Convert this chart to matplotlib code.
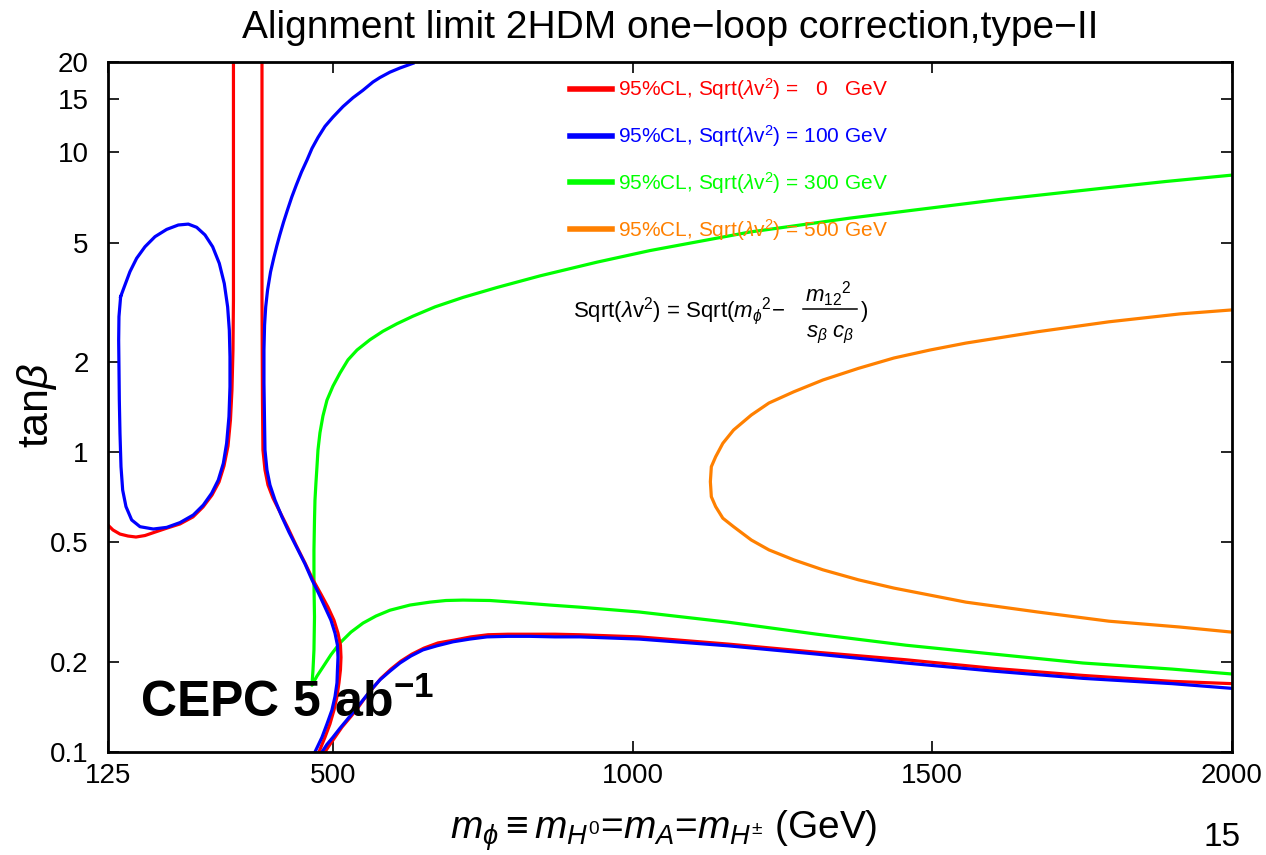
import matplotlib
matplotlib.use("Agg")
import matplotlib.pyplot as plt
from matplotlib.lines import Line2D

plt.rcParams['font.family'] = ['Liberation Sans', 'DejaVu Sans']
plt.rcParams['mathtext.fontset'] = 'custom'
plt.rcParams['mathtext.rm'] = 'Liberation Sans'
plt.rcParams['mathtext.it'] = 'Liberation Sans:italic'
plt.rcParams['mathtext.bf'] = 'Liberation Sans:bold'
plt.rcParams['mathtext.fallback'] = 'stix'

RED = '#ff0000'
BLUE = '#0000ff'
GREEN = '#00ff00'
ORANGE = '#ff8000'
LW = 2.3

# --- curves: (m_phi [GeV], tan beta) ---
red_left_x = [125, 133.3, 145.0, 158.4, 171.7, 186.7, 203.4, 223.4, 245.1, 266.8, 283.5, 298.5,
              310.2, 318.5, 325.2, 329.3, 331.8, 333.5, 334.3, 334.3]
red_left_y = [0.571, 0.550, 0.533, 0.525, 0.521, 0.527, 0.541, 0.558, 0.576, 0.608, 0.656, 0.719,
              0.795, 0.899, 1.048, 1.280, 1.611, 2.19, 3.22, 20.0]

red_right_x = [381.9, 381.9, 382.7, 383.5, 386.9, 391.9, 400.2, 411.9, 425.3, 438.6, 453.6, 467.0,
               480.3, 492.0, 502.0, 508.7, 512.8, 513.7, 512.8, 510.3, 507.0, 502.0, 495.3, 487.0,
               477.0]
red_right_y = [20.0, 3.22, 1.49, 1.016, 0.872, 0.777, 0.703, 0.631, 0.558, 0.490, 0.427, 0.375,
               0.336, 0.304, 0.275, 0.249, 0.227, 0.207, 0.188, 0.170, 0.153, 0.138, 0.124, 0.112,
               0.1]

red_low_x = [487.0, 495.3, 503.7, 515.3, 527.0, 540.4, 552.1, 565.4, 580.4, 597.1, 613.8, 632.1,
             652.1, 675.5, 702.2, 730.5, 758.9, 792.2, 828.9, 870.6, 912.3, 1010.8, 1159.2, 1307.7,
             1456.1, 1603.0, 1751.4, 1899.9, 2000]
red_low_y = [0.1, 0.106, 0.112, 0.121, 0.129, 0.139, 0.150, 0.162, 0.176, 0.189, 0.201, 0.212,
             0.222, 0.231, 0.236, 0.242, 0.246, 0.247, 0.247, 0.247, 0.246, 0.242, 0.229, 0.215,
             0.203, 0.190, 0.180, 0.172, 0.169]

blue_loop_x = [146.1, 143.3, 142.8, 143.3, 143.9, 145.0, 146.7, 149.5, 155.0, 164.5, 178.4, 200.6,
               222.9, 245.1, 267.3, 284.0, 297.9, 309.0, 317.4, 322.9, 326.8, 328.5, 328.5, 327.4,
               324.6, 319.0, 310.7, 299.6, 286.8, 272.9, 259.0, 242.3, 222.9, 203.4, 186.7, 172.8,
               161.7, 152.2, 146.1]
blue_loop_y = [3.30, 2.83, 2.36, 1.93, 1.49, 1.155, 0.894, 0.747, 0.658, 0.594, 0.564, 0.554,
               0.561, 0.582, 0.617, 0.666, 0.729, 0.807, 0.917, 1.070, 1.313, 1.653, 2.08, 2.55,
               3.05, 3.65, 4.26, 4.84, 5.30, 5.62, 5.76, 5.72, 5.53, 5.23, 4.84, 4.43,
               4.00, 3.56, 3.30]

blue_right_x = [633.8, 612.1, 595.4, 578.7, 567.0, 550.4, 533.7, 517.0, 500.3, 487.0, 475.3, 465.3,
                457.0, 447.8, 439.1, 431.6, 424.4, 417.9, 411.6, 406.6, 401.9, 396.2, 391.2, 388.1,
                386.2, 385.2, 385.2, 386.1, 386.9, 390.2, 395.2, 403.6, 415.2, 426.9, 440.3, 453.6,
                465.3, 477.0, 487.0, 497.0, 503.7, 507.8, 508.7, 507.8, 507.0, 503.7, 498.6, 490.3,
                482.0, 470.3]
blue_right_y = [19.8, 19.1, 18.5, 17.75, 17.15, 16.1, 15.2, 14.2, 13.1, 12.2, 11.2, 10.3,
                9.42, 8.59, 7.77, 7.09, 6.42, 5.85, 5.30, 4.87, 4.47, 3.99, 3.47, 3.05,
                2.65, 2.19, 1.70, 1.280, 1.016, 0.872, 0.777, 0.692, 0.608, 0.541, 0.479, 0.424,
                0.375, 0.336, 0.304, 0.275, 0.249, 0.227, 0.207, 0.188, 0.170, 0.153, 0.138, 0.124,
                0.112, 0.1]

blue_low_x = [482.0, 490.3, 500.3, 512.0, 523.7, 537.0, 550.4, 563.7, 578.7, 595.4, 612.1, 630.4,
              650.4, 673.8, 700.5, 728.9, 757.2, 792.2, 828.9, 870.6, 912.3, 1010.8, 1159.2, 1307.7,
              1456.1, 1603.0, 1751.4, 1899.9, 2000]
blue_low_y = [0.1, 0.106, 0.112, 0.120, 0.128, 0.138, 0.149, 0.161, 0.174, 0.186, 0.198, 0.209,
              0.219, 0.226, 0.233, 0.238, 0.242, 0.243, 0.243, 0.242, 0.242, 0.238, 0.226, 0.212,
              0.198, 0.186, 0.176, 0.169, 0.163]

green_x = [2000, 1889.9, 1779.7, 1612.9, 1462.8, 1362.7, 1195.9, 1029.1, 940.7, 845.6, 773.9,
           717.2, 670.5, 633.8, 607.1, 583.7, 562.0, 540.4, 525.3, 512.0, 500.3, 490.3, 483.6,
           478.6, 475.3, 473.6, 471.9, 470.3, 469.5, 468.6, 468.6, 469.5, 468.6, 467.0, 465.3,
           473.6, 483.6, 497.0, 512.0, 530.3, 550.4, 572.0, 595.4, 628.8, 662.1, 688.8, 717.2,
           762.2, 800.6, 862.3, 912.3, 1010.8, 1159.2, 1307.7, 1456.1, 1603.0, 1751.4, 1899.9, 2000]
green_y = [8.39, 7.99, 7.57, 6.96, 6.39, 6.03, 5.42, 4.70, 4.30, 3.87, 3.54,
           3.28, 3.05, 2.84, 2.68, 2.53, 2.37, 2.19, 2.03, 1.835, 1.66, 1.49, 1.320,
           1.16, 1.016, 0.892, 0.789, 0.692, 0.594, 0.472, 0.366, 0.282, 0.219, 0.188, 0.167,
           0.179, 0.192, 0.211, 0.231, 0.251, 0.269, 0.284, 0.297, 0.309, 0.316, 0.320, 0.321,
           0.320, 0.316, 0.309, 0.304, 0.293, 0.271, 0.247, 0.227, 0.212, 0.198, 0.189, 0.182]

orange_x = [2000, 1913.2, 1794.8, 1675.7, 1556.2, 1496.2, 1436.1, 1377.1, 1317.7, 1269.3, 1227.6,
            1198.3, 1168.6, 1150.7, 1138.7, 1131.5, 1129.9, 1131.5, 1138.7, 1150.7, 1168.6, 1198.3,
            1227.6, 1269.3, 1317.7, 1377.1, 1436.1, 1556.2, 1675.7, 1794.8, 1913.2, 2000]
orange_y = [2.98, 2.89, 2.72, 2.52, 2.31, 2.19, 2.06, 1.903, 1.740, 1.590, 1.458,
            1.330, 1.185, 1.070, 0.965, 0.894, 0.797, 0.710, 0.658, 0.602, 0.564, 0.509,
            0.472, 0.437, 0.405, 0.375, 0.352, 0.316, 0.293, 0.273, 0.261, 0.251]

xticks = [125, 500, 1000, 1500, 2000]
yticks = [0.1, 0.2, 0.5, 1, 2, 5, 10, 15, 20]
ytick_labels = ['0.1', '0.2', '0.5', '1', '2', '5', '10', '15', '20']

legend_colors = [RED, BLUE, GREEN, ORANGE]
legend_labels = [r'95%CL, Sqrt($\lambda$v$^{2}$) =   0   GeV',
                 r'95%CL, Sqrt($\lambda$v$^{2}$) = 100 GeV',
                 r'95%CL, Sqrt($\lambda$v$^{2}$) = 300 GeV',
                 r'95%CL, Sqrt($\lambda$v$^{2}$) = 500 GeV']

fig = plt.figure(figsize=(12.66, 8.55), dpi=100)
ax = fig.add_axes([0.0853, 0.1205, 0.8878, 0.807])

ax.plot(orange_x, orange_y, color=ORANGE, lw=LW)
ax.plot(green_x, green_y, color=GREEN, lw=LW)
ax.plot(red_left_x, red_left_y, color=RED, lw=LW)
ax.plot(red_right_x, red_right_y, color=RED, lw=LW)
ax.plot(red_low_x, red_low_y, color=RED, lw=LW)
ax.plot(blue_loop_x, blue_loop_y, color=BLUE, lw=LW)
ax.plot(blue_right_x, blue_right_y, color=BLUE, lw=LW)
ax.plot(blue_low_x, blue_low_y, color=BLUE, lw=LW)

ax.set_yscale('log')
ax.set_xlim(125, 2000)
ax.set_ylim(0.1, 20)
ax.set_xticks(xticks)
ax.set_xticklabels([str(t) for t in xticks])
ax.set_yticks(yticks)
ax.set_yticklabels(ytick_labels)
ax.minorticks_off()
ax.tick_params(direction='in', length=8, width=1.2, labelsize=20, top=True, right=True)
ax.tick_params(axis='x', pad=8)
ax.tick_params(axis='y', pad=14)
for s in ax.spines.values():
    s.set_linewidth(2)

handles = [Line2D([0], [0], color=c, lw=4) for c in legend_colors]
leg = ax.legend(handles, legend_labels, loc='upper left', bbox_to_anchor=(0.411, 0.979),
                frameon=False, fontsize=15, handlelength=2.0, handletextpad=0.3,
                labelspacing=1.0, borderpad=0, borderaxespad=0)
for txt, c in zip(leg.get_texts(), legend_colors):
    txt.set_color(c)

# formula: Sqrt(lambda v^2) = Sqrt(m_phi^2 - m12^2 / (s_b c_b))
FS = 16
ax.text(0.4137, 0.6304, r'Sqrt($\lambda$v$^{2}$) = Sqrt($m_{\phi}$$^{2}$$-$',
        transform=ax.transAxes, fontsize=FS, va='baseline', ha='left')
ax.text(0.6405, 0.653, r'$m_{12}$$^{2}$', transform=ax.transAxes, fontsize=FS,
        va='baseline', ha='center')
ax.plot([0.6183, 0.6664], [0.642, 0.642], transform=ax.transAxes, color='black', lw=1.1)
ax.text(0.6425, 0.6014, r'$s_{\beta}$ $c_{\beta}$', transform=ax.transAxes, fontsize=FS,
        va='baseline', ha='center')
ax.text(0.6695, 0.6304, ')', transform=ax.transAxes, fontsize=FS, va='baseline', ha='left')

ax.text(0.0285, 0.05, r'CEPC 5 ab$^{\mathbf{-1}}$', transform=ax.transAxes, fontsize=36,
        fontweight='bold', va='baseline', ha='left')

fig.text(0.529, 0.967, 'Alignment limit 2HDM one\u2212loop correction,type\u2212II',
         ha='center', va='center', fontsize=28)
fig.text(0.5245, 0.028, r'$m_{\phi}$$\equiv$$m_{H^0}$=$m_A$=$m_{H^{\pm}}$ (GeV)',
         ha='center', va='center', fontsize=28)
fig.text(0.029, 0.526, r'tan$\beta$', rotation=90, ha='center', va='center', fontsize=31)
fig.text(0.965, 0.02, '15', ha='center', va='center', fontsize=24)

fig.savefig('out.png', dpi=100)
